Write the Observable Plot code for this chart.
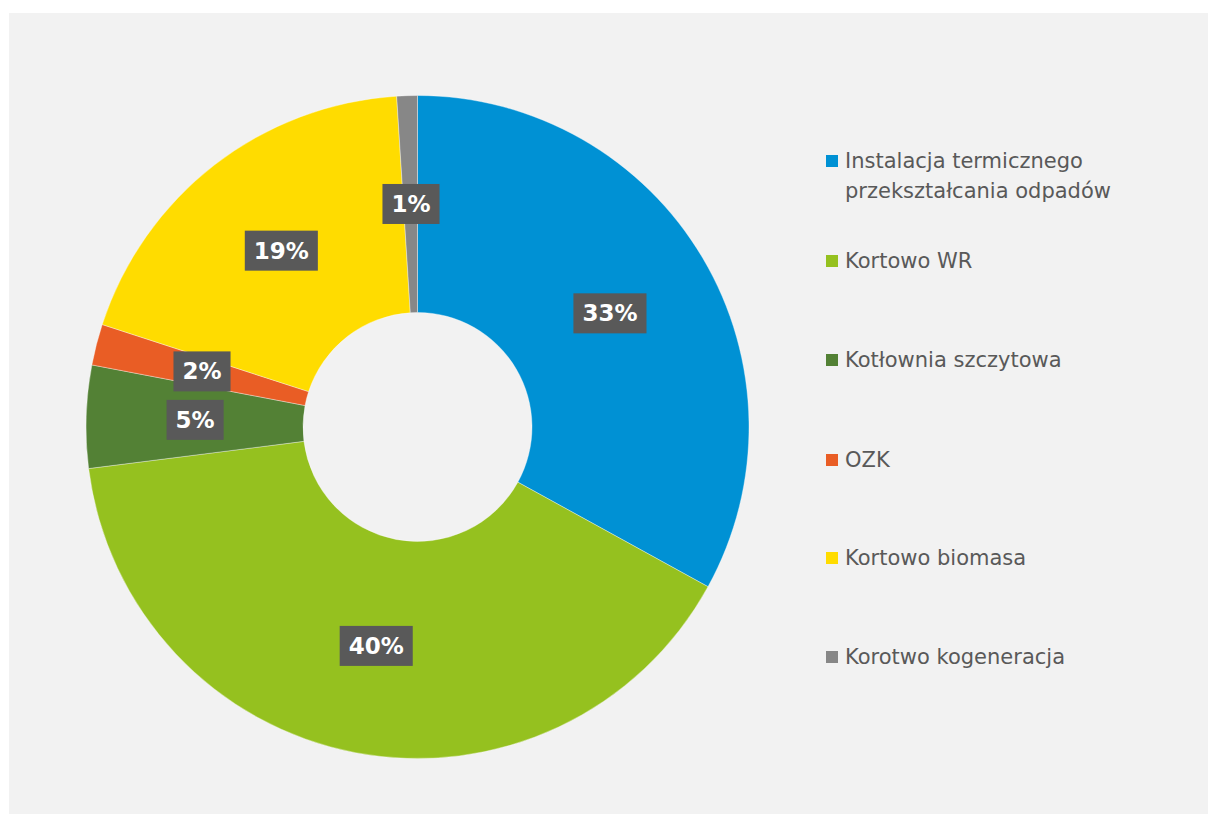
<!DOCTYPE html>
<html>
<head>
<meta charset="utf-8">
<script src="https://cdn.jsdelivr.net/npm/d3@7"></script>
<script src="https://cdn.jsdelivr.net/npm/@observablehq/plot@0.6"></script>
<style>
  html, body { margin: 0; padding: 0; background: #ffffff; }
  #panel { position: absolute; left: 9px; top: 13px; width: 1199px; height: 801px; background: #f2f2f2; overflow: hidden; }
  #chart { position: absolute; left: 0; top: 0; }
  #legend { position: absolute; left: 817px; top: 0; font-family: "DejaVu Sans", sans-serif; font-size: 21px; color: #595959; }
  .item { position: absolute; left: 0; display: flex; align-items: flex-start; white-space: nowrap; line-height: 30px; }
  .sw { flex: none; width: 12px; height: 12px; margin-top: 9px; margin-right: 7px; }
</style>
</head>
<body>
<div id="panel">
  <div id="chart"></div>
  <div id="legend"></div>
</div>
<script>
// ---- data ----
const categories = [
  "Instalacja termicznego przekształcania odpadów",
  "Kortowo WR",
  "Kotłownia szczytowa",
  "OZK",
  "Kortowo biomasa",
  "Korotwo kogeneracja"
];
const legendLines = [
  ["Instalacja termicznego", "przekształcania odpadów"],
  ["Kortowo WR"],
  ["Kotłownia szczytowa"],
  ["OZK"],
  ["Kortowo biomasa"],
  ["Korotwo kogeneracja"]
];
const shares = [33, 40, 5, 2, 19, 1];
const colors = ["#0091d4", "#95c11f", "#538135", "#e95d25", "#ffdc00", "#878787"];

// ---- layout ----
const innerRatio = 114.5 / 331.5;
const pie = d3.pie().sort(null).value(d => d.share);
const rows = categories.map((cat, i) => ({cat, share: shares[i]}));
const slices = pie(rows).map(s => {
  const a = (s.startAngle + s.endAngle) / 2;
  const rm = (1 + innerRatio) / 2;
  return {...s, cat: s.data.cat, share: s.data.share, lx: rm * Math.sin(a), ly: rm * Math.cos(a)};
});

const cx = 408.5, cy = 414, R = 331.5;

const chart = Plot.plot({
  width: 810,
  height: 801,
  margin: 0,
  style: {background: "transparent", overflow: "visible"},
  x: {domain: [-1, 1], range: [cx - R, cx + R], axis: null},
  y: {domain: [-1, 1], range: [cy + R, cy - R], axis: null},
  color: {domain: categories, range: colors},
  marks: [
    Plot.dot(slices, {
      x: () => 0,
      y: () => 0,
      fill: "cat",
      render(index, scales, values) {
        const ox = scales.x(0), oy = scales.y(0);
        const r = scales.x(1) - ox;
        const arc = d3.arc().innerRadius(r * innerRatio).outerRadius(r);
        const g = d3.create("svg:g").attr("transform", `translate(${ox},${oy})`);
        g.selectAll("path")
          .data(index)
          .join("path")
          .attr("d", i => arc(slices[i]))
          .attr("fill", i => values.fill[i])
          .attr("stroke", "#ffffff")
          .attr("stroke-opacity", 0.6)
          .attr("stroke-width", 0.6);
        return g.node();
      }
    }),
    Plot.text(slices, {
      x: "lx",
      y: "ly",
      text: d => d.share + "%",
      fill: "#ffffff",
      fontSize: 23,
      fontWeight: "bold",
      fontFamily: "DejaVu Sans"
    })
  ]
});
document.getElementById("chart").appendChild(chart);

// boxes behind percentage labels
chart.querySelectorAll('g[aria-label="text"] text').forEach(t => {
  const b = t.getBBox();
  const rect = document.createElementNS("http://www.w3.org/2000/svg", "rect");
  rect.setAttribute("x", b.x - 9);
  rect.setAttribute("y", b.y - 7);
  rect.setAttribute("width", b.width + 18);
  rect.setAttribute("height", b.height + 14);
  rect.setAttribute("fill", "#595959");
  const tr = t.getAttribute("transform");
  if (tr) rect.setAttribute("transform", tr);
  t.parentNode.insertBefore(rect, t);
});

// legend
const legend = document.getElementById("legend");
const itemTops = [133, 233, 332, 432, 530, 629];
legendLines.forEach((lines, i) => {
  const it = document.createElement("div");
  it.className = "item";
  it.style.top = itemTops[i] + "px";
  const sw = document.createElement("div");
  sw.className = "sw";
  sw.style.background = colors[i];
  const tx = document.createElement("div");
  tx.innerHTML = lines.join("<br>");
  it.appendChild(sw);
  it.appendChild(tx);
  legend.appendChild(it);
});
</script>
</body>
</html>
